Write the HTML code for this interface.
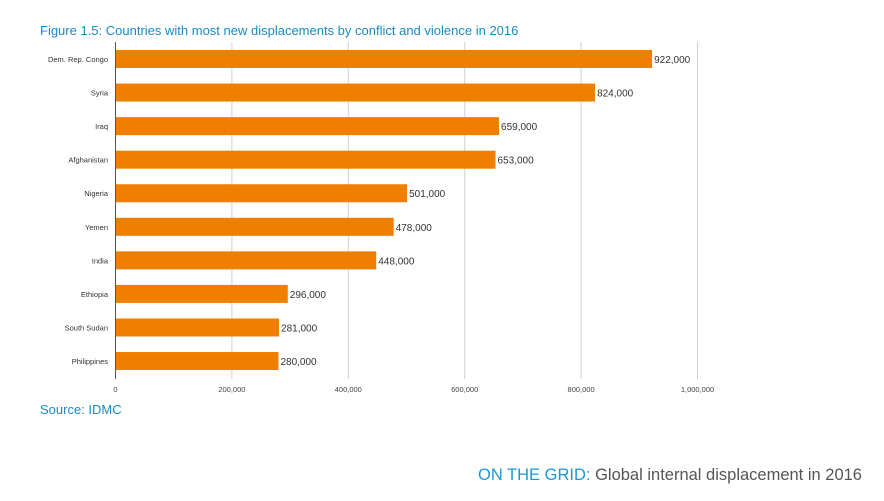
<!DOCTYPE html>
<html><head><meta charset="utf-8"><style>
body{margin:0;background:#fff;width:884px;height:496px;overflow:hidden;font-family:"Liberation Sans",sans-serif}
</style></head><body>
<svg width="884" height="496">
<text x="40" y="35" font-size="13" fill="#1a8ac6">Figure 1.5: Countries with most new displacements by conflict and violence in 2016</text>
<g id="grid"></g><g id="bars"></g>
<text x="40" y="414" font-size="13" fill="#1a8ac6">Source: IDMC</text>
<text x="862" y="480" font-size="16.5" fill="#555" text-anchor="end"><tspan fill="#1a9ad6">ON THE GRID:</tspan> Global internal displacement in 2016</text>
</svg>
<script>
const categories=["Dem. Rep. Congo","Syria","Iraq","Afghanistan","Nigeria","Yemen","India","Ethiopia","South Sudan","Philippines"];
const values=[922000,824000,659000,653000,501000,478000,448000,296000,281000,280000];
const ticks=[0,200000,400000,600000,800000,1000000];
const tickLabels=["0","200,000","400,000","600,000","800,000","1,000,000"];
const NS="http://www.w3.org/2000/svg";
const x0=115.5,xs=582/1000000,yTop=59,step=33.56,bh=18;
const X=v=>x0+v*xs, Y=i=>yTop+i*step;
function mk(t,a,p){const e=document.createElementNS(NS,t);for(const k in a)e.setAttribute(k,a[k]);p.appendChild(e);return e;}
const g=document.getElementById('grid'),b=document.getElementById('bars');
ticks.forEach((t,i)=>{
 if(i>0){const l=mk('line',{x1:X(t),x2:X(t),y1:42,y2:379,stroke:'#d0d0d0','stroke-width':1},g);
 
 }
 const tx=mk('text',{x:X(t),y:392,'font-size':7.5,fill:'#444','text-anchor':'middle'},g);tx.textContent=tickLabels[i];
 
 
});
categories.forEach((c,i)=>{
 const r=mk('rect',{x:x0,y:Y(i)-bh/2,width:X(values[i])-x0,height:bh,fill:'#ee7f00'},b);
 
 
 const lb=mk('text',{x:108,y:Y(i)+3,'font-size':7.5,fill:'#333','text-anchor':'end'},b);lb.textContent=c;
 
 
 const v=mk('text',{x:X(values[i])+2,y:Y(i)+4,'font-size':10,fill:'#333'},b);v.textContent=values[i].toLocaleString('en-US');
 
 
});
const ax=mk('line',{x1:x0,x2:x0,y1:42,y2:379,stroke:'#555','stroke-width':1},b);


</script>
</body></html>
